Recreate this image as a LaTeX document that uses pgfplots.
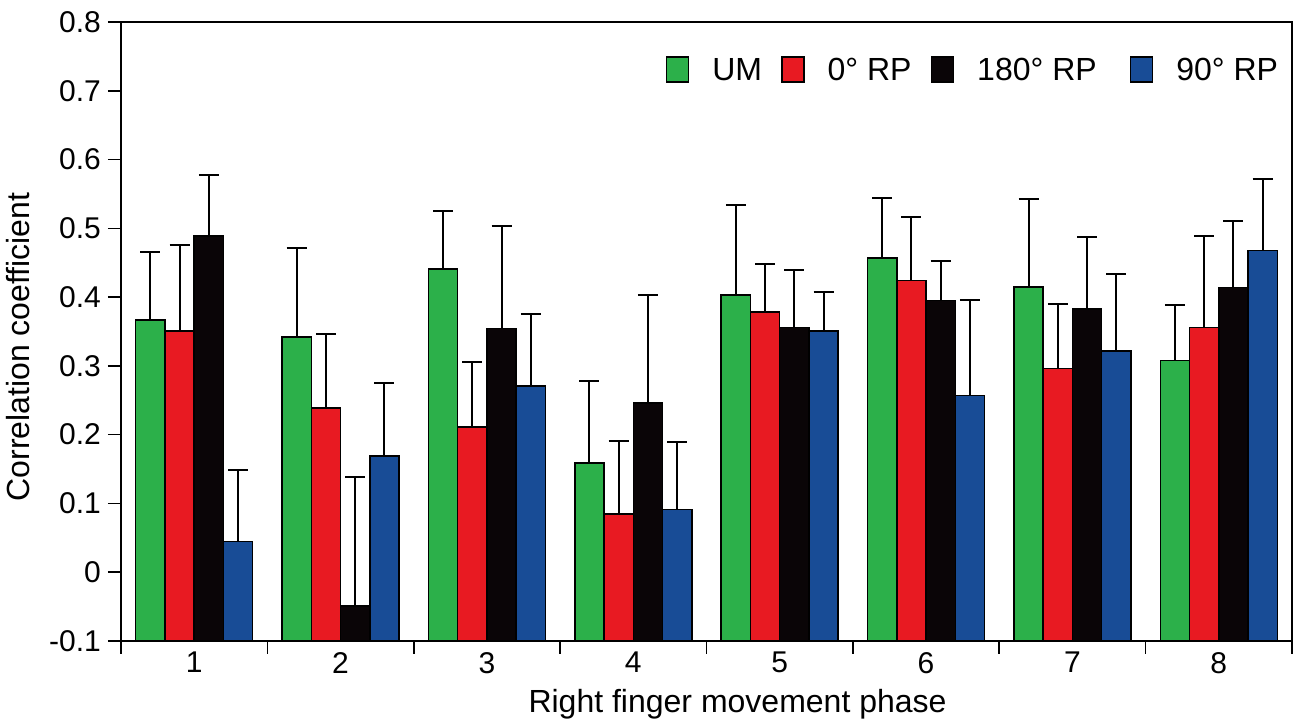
\documentclass[border=0pt]{standalone}
\usepackage{fontspec}
\setmainfont{Liberation Sans}
\usepackage{pgfplots}
\pgfplotsset{compat=1.18}
\usepackage{pgfplotstable}

\definecolor{cgreen}{RGB}{44,176,74}
\definecolor{cred}{RGB}{232,26,34}
\definecolor{cblack}{RGB}{10,5,7}
\definecolor{cblue}{RGB}{24,76,150}

% value and top of error bar for each series
\pgfplotstableread{
x  um     umt    rz     rzt    ro     rot    rn     rnt
1  0.367  0.465  0.351  0.476  0.489  0.578  0.045  0.149
2  0.342  0.471  0.239  0.347  -0.049 0.138  0.169  0.275
3  0.441  0.525  0.211  0.305  0.354  0.503  0.271  0.376
4  0.159  0.278  0.085  0.191  0.246  0.403  0.091  0.190
5  0.403  0.534  0.378  0.448  0.356  0.440  0.351  0.408
6  0.457  0.544  0.424  0.516  0.395  0.453  0.257  0.396
7  0.415  0.542  0.296  0.390  0.383  0.488  0.322  0.434
8  0.308  0.389  0.356  0.489  0.414  0.511  0.468  0.571
}\data

\begin{document}
\begin{tikzpicture}
\useasboundingbox (-60.5pt,-43pt) rectangle (589.5pt,320.5pt);
\begin{axis}[
  at={(0pt,0pt)}, anchor=south west,
  scale only axis, width=585.5pt, height=309.5pt,
  xmin=0.5, xmax=8.5, ymin=-0.1, ymax=0.8,
  y coord trafo/.code={\pgfmathparse{#1+0.1}},
  y coord inv trafo/.code={\pgfmathparse{#1-0.1}},
  axis line style={line width=0.9pt},
  ybar=0pt, bar width=0.2,
  xtick={0.5,1.5,...,8.5}, xticklabels={},
  extra x ticks={1,2,3,4,5,6,7,8},
  extra x tick labels={1,2,3,4,5,6,7,8},
  extra x tick style={major tick length=0pt, xticklabel style={yshift=-2pt}},
  ytick={-0.1,0,0.1,0.2,0.3,0.4,0.5,0.6,0.7,0.8},
  yticklabels={{-0.1},0,0.1,0.2,0.3,0.4,0.5,0.6,0.7,0.8},
  xtick pos=left, ytick pos=left,
  tick align=outside, major tick length=6.5pt,
  tick style={line width=0.8pt, black},
  /pgf/number format/assume math mode=true,
  tick label style={font=\fontsize{15pt}{18pt}\selectfont},
  xlabel={Right finger movement phase},
  xlabel style={at={(axis description cs:0.5265,-0.115)}, anchor=base, font=\fontsize{16pt}{19pt}\selectfont},
  ylabel={Correlation coefficient},
  ylabel style={at={(axis description cs:-0.0875,0.475)}, anchor=center, rotate=0, font=\fontsize{16pt}{19pt}\selectfont},
  legend columns=4,
  legend style={draw=none, fill=none, at={(0.997,0.955)}, anchor=north east,
    font=\fontsize{16pt}{19pt}\selectfont,
    /tikz/every even column/.append style={column sep=7.5pt},
    /tikz/every odd column/.append style={column sep=9.5pt}},
  every axis plot post/.append style={legend image code/.code={\draw[##1,draw=black,line width=0.8pt] (0pt,-5.5pt) rectangle (11pt,7pt);}},
  error bars/y dir=plus, error bars/y explicit,
  error bars/error mark=-,
  error bars/error bar style={line width=1pt, black},
  error bars/error mark options={rotate=90, mark size=5pt, line width=1pt, black},
]
\addplot[fill=cgreen, draw=black, line width=0.75pt] table[x=x, y=um, y error expr=\thisrow{umt}-\thisrow{um}] {\data};
\addplot[fill=cred, draw=black, line width=0.75pt] table[x=x, y=rz, y error expr=\thisrow{rzt}-\thisrow{rz}] {\data};
\addplot[fill=cblack, draw=black, line width=0.75pt] table[x=x, y=ro, y error expr=\thisrow{rot}-\thisrow{ro}] {\data};
\addplot[fill=cblue, draw=black, line width=0.75pt] table[x=x, y=rn, y error expr=\thisrow{rnt}-\thisrow{rn}] {\data};
\legend{UM, 0° RP, \hbox{180° RP\kern7pt}, 90° RP}
\end{axis}
\end{tikzpicture}
\end{document}
